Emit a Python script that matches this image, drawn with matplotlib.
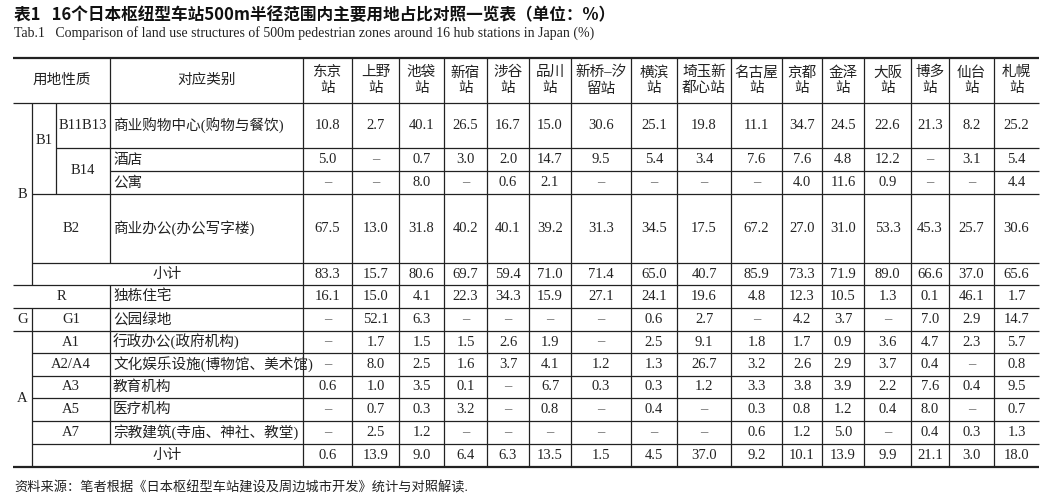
import numpy as np
import matplotlib
matplotlib.use('Agg')
import matplotlib.pyplot as plt

nan = np.nan
MIX = ['Liberation Serif', 'Noto Sans CJK SC']

title = '表1   16个日本枢纽型车站500m半径范围内主要用地占比对照一览表（单位：%）'
subtitle = 'Tab.1   Comparison of land use structures of 500m pedestrian zones around 16 hub stations in Japan (%)'
source = '资料来源：笔者根据《日本枢纽型车站建设及周边城市开发》统计与对照解读.'

stations = ['东京\n站', '上野\n站', '池袋\n站', '新宿\n站', '涉谷\n站', '品川\n站', '新桥–汐\n留站',
            '横滨\n站', '埼玉新\n都心站', '名古屋\n站', '京都\n站', '金泽\n站', '大阪\n站', '博多\n站',
            '仙台\n站', '札幌\n站']

categories = ['商业购物中心(购物与餐饮)', '酒店', '公寓', '商业办公(办公写字楼)', '小计',
              '独栋住宅', '公园绿地', '行政办公(政府机构)', '文化娱乐设施(博物馆、美术馆)',
              '教育机构', '医疗机构', '宗教建筑(寺庙、神社、教堂)', '小计']

b11b13 = [10.8, 2.7, 40.1, 26.5, 16.7, 15.0, 30.6, 25.1, 19.8, 11.1, 34.7, 24.5, 22.6, 21.3, 8.2, 25.2]
hotel = [5.0, nan, 0.7, 3.0, 2.0, 14.7, 9.5, 5.4, 3.4, 7.6, 7.6, 4.8, 12.2, nan, 3.1, 5.4]
apart = [nan, nan, 8.0, nan, 0.6, 2.1, nan, nan, nan, nan, 4.0, 11.6, 0.9, nan, nan, 4.4]
b2 = [67.5, 13.0, 31.8, 40.2, 40.1, 39.2, 31.3, 34.5, 17.5, 67.2, 27.0, 31.0, 53.3, 45.3, 25.7, 30.6]
b_sub = [83.3, 15.7, 80.6, 69.7, 59.4, 71.0, 71.4, 65.0, 40.7, 85.9, 73.3, 71.9, 89.0, 66.6, 37.0, 65.6]
r_house = [16.1, 15.0, 4.1, 22.3, 34.3, 15.9, 27.1, 24.1, 19.6, 4.8, 12.3, 10.5, 1.3, 0.1, 46.1, 1.7]
g1 = [nan, 52.1, 6.3, nan, nan, nan, nan, 0.6, 2.7, nan, 4.2, 3.7, nan, 7.0, 2.9, 14.7]
a1 = [nan, 1.7, 1.5, 1.5, 2.6, 1.9, nan, 2.5, 9.1, 1.8, 1.7, 0.9, 3.6, 4.7, 2.3, 5.7]
a2a4 = [nan, 8.0, 2.5, 1.6, 3.7, 4.1, 1.2, 1.3, 26.7, 3.2, 2.6, 2.9, 3.7, 0.4, nan, 0.8]
a3 = [0.6, 1.0, 3.5, 0.1, nan, 6.7, 0.3, 0.3, 1.2, 3.3, 3.8, 3.9, 2.2, 7.6, 0.4, 9.5]
a5 = [nan, 0.7, 0.3, 3.2, nan, 0.8, nan, 0.4, nan, 0.3, 0.8, 1.2, 0.4, 8.0, nan, 0.7]
a7 = [nan, 2.5, 1.2, nan, nan, nan, nan, nan, nan, 0.6, 1.2, 5.0, nan, 0.4, 0.3, 1.3]
a_sub = [0.6, 13.9, 9.0, 6.4, 6.3, 13.5, 1.5, 4.5, 37.0, 9.2, 10.1, 13.9, 9.9, 21.1, 3.0, 18.0]
rows = [b11b13, hotel, apart, b2, b_sub, r_house, g1, a1, a2a4, a3, a5, a7, a_sub]

# layout (pixels)
fig = plt.figure(figsize=(10.43, 5.0), dpi=100)
ax = fig.add_axes([0, 0, 1, 1])
ax.set_xlim(0, 1043)
ax.set_ylim(500, 0)
ax.axis('off')

xs = [303, 352, 399, 444, 487, 529, 571, 631, 677, 731, 782, 822, 864, 911, 949, 994, 1039]
ys = [103, 148, 171, 194, 263, 285, 308, 331, 353, 376, 398, 421, 444, 467]
L, top, c1, c2, c3 = 13, 58, 32, 56, 110
col = '#222222'
lw = 0.9

def hl(y, x0, x1=1039, w=lw):
    ax.plot([x0, x1], [y, y], color=col, lw=w, solid_capstyle='butt')

def vl(x, y0, y1):
    ax.plot([x, x], [y0, y1], color=col, lw=lw, solid_capstyle='butt')

hl(top, L, w=1.6)
hl(ys[0], L)
hl(ys[1], c2); hl(ys[2], c3); hl(ys[3], c1); hl(ys[4], c1)
hl(ys[5], L); hl(ys[6], L); hl(ys[7], L)
for y in ys[8:13]:
    hl(y, c1)
hl(ys[13], L, w=1.6)

for x in xs[:-1]:
    vl(x, top, ys[13])
vl(c1, ys[0], ys[5]); vl(c1, ys[6], ys[13])
vl(c2, ys[0], ys[3])
vl(c3, top, ys[4]); vl(c3, ys[5], ys[12])

fs = 10.5
def t(x, y, s, ha='center', size=fs, color=col, **kw):
    ax.text(x, y, s, ha=ha, va='center', fontsize=size, color=color, family=MIX, **kw)

# header
t((L + c3) / 2, (top + ys[0]) / 2, '用地性质')
t((c3 + xs[0]) / 2, (top + ys[0]) / 2, '对应类别')
for i, s in enumerate(stations):
    t((xs[i] + xs[i + 1]) / 2, (top + ys[0]) / 2, s, linespacing=1.25)

mid = lambda a, b: (ys[a] + ys[b]) / 2
# left code columns
t((L + c1) / 2, mid(0, 5), 'B')
t((c1 + c2) / 2, mid(0, 3) - 8, 'B1')
t((c2 + c3) / 2, mid(0, 1), 'B11B13')
t((c2 + c3) / 2, mid(1, 3), 'B14')
t((c1 + c3) / 2, mid(3, 4), 'B2')
t((c1 + xs[0]) / 2, mid(4, 5), '小计')
t((L + c3) / 2, mid(5, 6), 'R')
t((L + c1) / 2, mid(6, 7), 'G')
t((c1 + c3) / 2, mid(6, 7), 'G1')
t((L + c1) / 2, mid(7, 13), 'A')
for k, code in zip(range(7, 12), ['A1', 'A2/A4', 'A3', 'A5', 'A7']):
    t((c1 + c3) / 2, mid(k, k + 1), code)
t((c1 + xs[0]) / 2, mid(12, 13), '小计')

for r, (cat, vals) in enumerate(zip(categories, rows)):
    yc = mid(r, r + 1)
    if cat != '小计':
        t(c3 + 3, yc, cat, ha='left')
    for i, v in enumerate(vals):
        xc = (xs[i] + xs[i + 1]) / 2
        if np.isnan(v):
            t(xc, yc, '–', color='#666666')
        else:
            t(xc, yc, f'{v:.1f}')

ax.text(14, 15, title, ha='left', va='center', fontsize=12, fontweight='bold',
        color='#111111', family=['Noto Sans CJK SC'])
ax.text(14, 33, subtitle, ha='left', va='center', fontsize=10, color=col, family=MIX)
ax.text(14, 488, source, ha='left', va='center', fontsize=9.5, color=col, family=MIX)

fig.savefig('out.png', dpi=100, facecolor='white')
